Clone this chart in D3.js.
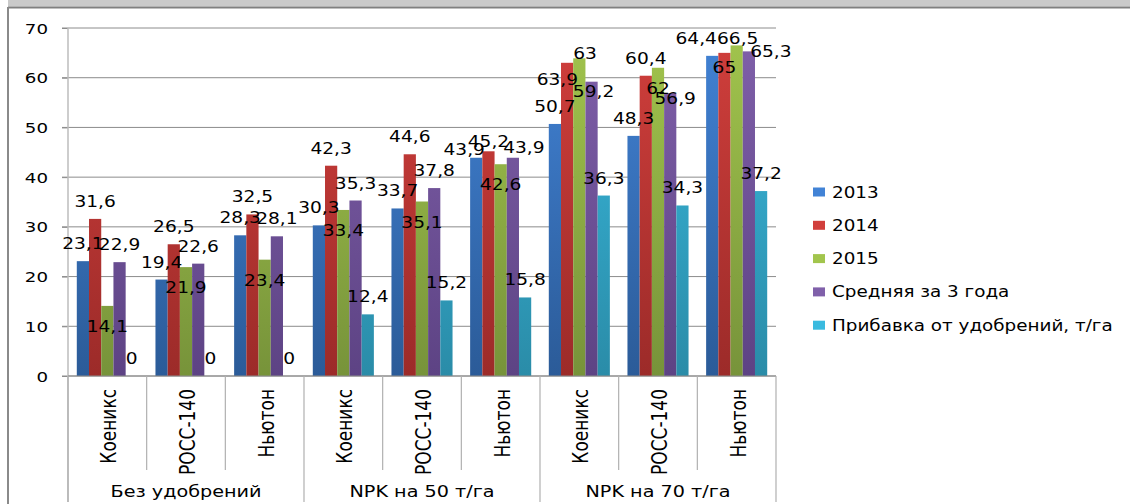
<!DOCTYPE html>
<html>
<head>
<meta charset="utf-8">
<script src="https://cdn.jsdelivr.net/npm/d3@7"></script>
<style>
  html, body { margin: 0; padding: 0; background: #fff; }
  svg { display: block; }
  text { font-family: "DejaVu Sans", sans-serif; fill: #000; }
</style>
</head>
<body>
<svg id="chart" width="1130" height="504"></svg>
<script>
// ---- data ----
const categories = ["Коеникс", "РОСС-140", "Ньютон", "Коеникс", "РОСС-140", "Ньютон", "Коеникс", "РОСС-140", "Ньютон"];
const groups = ["Без удобрений", "NPK на 50 т/га", "NPK на 70 т/га"];
const seriesNames = ["2013", "2014", "2015", "Средняя за 3 года", "Прибавка от удобрений, т/га"];
const v2013 = [23.1, 19.4, 28.3, 30.3, 33.7, 43.9, 50.7, 48.3, 64.4];
const v2014 = [31.6, 26.5, 32.5, 42.3, 44.6, 45.2, 63, 60.4, 65];
const v2015 = [14.1, 21.9, 23.4, 33.4, 35.1, 42.6, 63.9, 62, 66.5];
const vAvg  = [22.9, 22.6, 28.1, 35.3, 37.8, 43.9, 59.2, 56.9, 65.3];
const vGain = [0, 0, 0, 12.4, 15.2, 15.8, 36.3, 34.3, 37.2];
const yTicks = [0, 10, 20, 30, 40, 50, 60, 70];

const seriesValues = [v2013, v2014, v2015, vAvg, vGain];
const colorsTop = ["#4283d6", "#d13f3c", "#a2c54d", "#8060aa", "#3abadf"];
const colorsBot = ["#2b5b98", "#9c2b29", "#77933a", "#5d4384", "#2a8ca8"];

(function () {
// ---- layout ----
const svg = d3.select("#chart");
const pl = 68, pr = 776, pt = 28, pb = 376;
const SX = 1.2;
// manual label nudges (series-category): pixel offsets from the default label spot
const labelNudges = {
  "0-5": [-12, 9], "1-5": [0, 8], "3-5": [11, 7],
  "1-6": [18, 8], "2-6": [-22, 1], "3-6": [2, 27],
  "3-7": [5, 23],
  "0-8": [-16, 0], "1-8": [0, 32], "2-8": [1, -27], "3-8": [22, 18]
};

const x0 = d3.scaleBand().domain(d3.range(categories.length)).range([pl, pr]).padding(0);
const x1 = d3.scaleBand().domain(d3.range(seriesNames.length)).range([0, x0.bandwidth()]).paddingInner(0).paddingOuter(0.72);
const y = d3.scaleLinear().domain([0, 70]).range([pb, pt]);

// frame
svg.append("rect").attr("x", 8).attr("y", 0).attr("width", 1122).attr("height", 6.5).attr("fill", "#cacaca");
svg.append("line").attr("x1", 8).attr("x2", 1130).attr("y1", 7.5).attr("y2", 7.5).attr("stroke", "#808080").attr("stroke-width", 2);
svg.append("line").attr("x1", 8).attr("x2", 8).attr("y1", 7).attr("y2", 504).attr("stroke", "#8a8a8a").attr("stroke-width", 2);

// gradients
const defs = svg.append("defs");
seriesNames.forEach((s, i) => {
  const g = defs.append("linearGradient").attr("id", "g" + i)
    .attr("gradientUnits", "userSpaceOnUse").attr("x1", 0).attr("x2", 0).attr("y1", pt).attr("y2", pb);
  g.append("stop").attr("offset", "0%").attr("stop-color", colorsTop[i]);
  g.append("stop").attr("offset", "100%").attr("stop-color", colorsBot[i]);
});

// gridlines
svg.append("g").selectAll("line").data(yTicks).join("line")
  .attr("x1", pl - 6).attr("x2", pr)
  .attr("y1", d => y(d)).attr("y2", d => y(d))
  .attr("stroke", "#8c8c8c").attr("stroke-width", 1);

// y axis
const yAxis = svg.append("g").attr("transform", `translate(${pl},0)`)
  .call(d3.axisLeft(y).tickValues(yTicks).tickSize(6).tickFormat(d3.format("d")));
yAxis.select(".domain").remove();
yAxis.selectAll(".tick line").attr("stroke", "#8c8c8c");
yAxis.selectAll(".tick text")
  .attr("x", null).attr("dy", "0.36em")
  .attr("transform", `translate(-20,0) scale(1.3,1)`)
  .style("font-size", "14px").style("font-family", "DejaVu Sans, sans-serif").attr("fill", "#000");

// vertical axis line
svg.append("line").attr("x1", pl).attr("x2", pl).attr("y1", pt).attr("y2", 502)
  .attr("stroke", "#bdbdbd").attr("stroke-width", 1.5);

// bars
const barsG = svg.append("g");
seriesValues.forEach((vals, si) => {
  barsG.append("g").selectAll("rect").data(vals).join("rect")
    .attr("x", (d, ci) => x0(ci) + x1(si))
    .attr("y", d => y(d))
    .attr("width", x1.bandwidth())
    .attr("height", d => y(0) - y(d))
    .attr("fill", `url(#g${si})`);
});

// data labels
const fmt = v => String(v).replace(".", ",");
seriesValues.forEach((vals, si) => {
  svg.append("g").selectAll("text").data(vals).join("text")
    .attr("transform", (d, ci) => {
      const n = labelNudges[si + "-" + ci] || [0, 0];
      const cx = x0(ci) + x1(si) + x1.bandwidth() / 2 + n[0];
      const cy = (si === 2 ? y(d) + 26 : y(d) - 12) + n[1];
      return `translate(${cx},${cy}) scale(${SX},1)`;
    })
    .attr("text-anchor", "middle")
    .style("font-size", "15.5px")
    .text(d => fmt(d));
});

// x axis base line
svg.append("line").attr("x1", pl).attr("x2", pr).attr("y1", pb).attr("y2", pb)
  .attr("stroke", "#8c8c8c").attr("stroke-width", 1);

// category separators
const bounds = d3.range(categories.length + 1).map(i => pl + i * x0.bandwidth());
svg.append("g").selectAll("line").data(bounds).join("line")
  .attr("x1", d => d).attr("x2", d => d)
  .attr("y1", pb)
  .attr("y2", (d, i) => (i % 3 === 0 ? 502 : 470))
  .attr("stroke", "#b0b0b0").attr("stroke-width", 1.2);

// category labels (rotated)
svg.append("g").selectAll("text").data(categories).join("text")
  .attr("transform", (d, i) => `translate(${x0(i) + x0.bandwidth() / 2 + 9},389) rotate(-90) scale(1,1.2)`)
  .attr("text-anchor", "end")
  .style("font-size", "17px")
  .text(d => d);

// group labels
svg.append("g").selectAll("text").data(groups).join("text")
  .attr("transform", (d, i) => `translate(${(bounds[i * 3] + bounds[i * 3 + 3]) / 2},497) scale(${SX},1)`)
  .attr("text-anchor", "middle")
  .style("font-size", "16px")
  .text(d => d);

// legend
const leg = svg.append("g").attr("transform", "translate(813,192)");
const items = leg.selectAll("g").data(seriesNames).join("g")
  .attr("transform", (d, i) => `translate(0,${i * 33.3})`);
items.append("rect").attr("x", 0).attr("y", -4.5).attr("width", 12).attr("height", 9)
  .attr("fill", (d, i) => colorsTop[i]);
items.append("text")
  .attr("transform", `translate(19,5.5) scale(${SX},1)`)
  .style("font-size", "15.3px")
  .text(d => d);
})();
</script>
</body>
</html>
